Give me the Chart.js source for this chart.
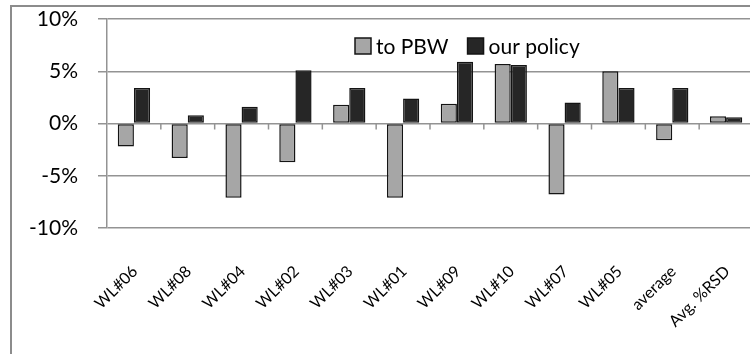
<!DOCTYPE html>
<html><head><meta charset="utf-8">
<script src="https://cdn.jsdelivr.net/npm/chart.js@4/dist/chart.umd.min.js"></script>
<style>
html,body{margin:0;padding:0;background:#fff;overflow:hidden;width:750px;height:354px;}
#wrap{position:relative;width:756px;height:354px;}
#frame{position:absolute;left:10px;top:5px;width:800px;height:400px;border-left:2px solid #8c8c8c;border-top:2px solid #8c8c8c;}
canvas{position:absolute;left:0;top:0;}
</style></head><body>
<div id="wrap"><div id="frame"></div><canvas id="c" width="756" height="354"></canvas></div>
<script>
const categories = ['WL#06','WL#08','WL#04','WL#02','WL#03','WL#01','WL#09','WL#10','WL#07','WL#05','average','Avg. %RSD'];
const toPBW = [-2.2,-3.3,-7.1,-3.7,1.8,-7.1,1.9,5.7,-6.8,5.0,-1.6,0.7];
const ourPolicy = [3.4,0.8,1.6,5.1,3.4,2.4,5.9,5.6,2.0,3.4,3.4,0.6];
const seriesNames = ['to PBW','our policy'];
const yTicks = [-10,-5,0,5,10];

const FONT = 'Lato';
const GRID = '#939393';

// legend drawn inside the plot area, from the datasets' own labels and colours
const insideLegend = {
  id:'insideLegend',
  afterDraw(chart){
    const ctx = chart.ctx;
    const box = 16, gapText = 5, gapItem = 19;
    let x = 355; const yMid = 46;
    ctx.save();
    ctx.font = '21px ' + FONT;
    ctx.textBaseline = 'middle'; ctx.textAlign = 'left';
    chart.data.datasets.forEach(ds => {
      ctx.fillStyle = ds.backgroundColor;
      ctx.fillRect(x, yMid - box/2, box, box);
      ctx.strokeStyle = ds.borderColor; ctx.lineWidth = 1.5;
      ctx.strokeRect(x, yMid - box/2, box, box);
      x += box + gapText;
      ctx.fillStyle = '#000';
      ctx.fillText(ds.label, x, yMid + 1);
      x += ctx.measureText(ds.label).width + gapItem;
    });
    ctx.restore();
  }
};
const zeroTicks = {
  id:'zeroTicks',
  beforeDatasetsDraw(chart){
    const x = chart.scales.x, y = chart.scales.y;
    const y0 = y.getPixelForValue(0);
    const ctx = chart.ctx;
    ctx.save(); ctx.strokeStyle = GRID; ctx.lineWidth = 1.5;
    for(let i=1;i<categories.length;i++){
      const px = (x.getPixelForTick(i-1)+x.getPixelForTick(i))/2;
      ctx.beginPath(); ctx.moveTo(px,y0); ctx.lineTo(px,y0+6); ctx.stroke();
    }
    ctx.restore();
  }
};

new Chart(document.getElementById('c'), {
  type:'bar',
  data:{
    labels: categories,
    datasets:[
      {label:seriesNames[0], data:toPBW, backgroundColor:'#a6a6a6', borderColor:'#141414', borderWidth:1.5, borderSkipped:false},
      {label:seriesNames[1], data:ourPolicy, backgroundColor:'#262626', borderColor:'#141414', borderWidth:1.5, borderSkipped:false}
    ]
  },
  options:{
    responsive:false, animation:false,
    layout:{padding:{top:19,left:0,right:3,bottom:0}},
    datasets:{bar:{categoryPercentage:0.6, barPercentage:1.0}},
    plugins:{ legend:{display:false}, tooltip:{enabled:false} },
    scales:{
      x:{
        grid:{display:false, drawTicks:false}, border:{display:false},
        ticks:{font:{family:FONT,size:16}, color:'#000', minRotation:45, maxRotation:45, autoSkip:false, labelOffset:1, padding:34},
        afterFit(s){ s.height = 354-228; s.paddingLeft = 0; s.paddingRight = 0; }
      },
      y:{
        min:-10, max:10,
        afterBuildTicks(s){ s.ticks = yTicks.map(v=>({value:v})); },
        ticks:{callback:v=>v+'%', font:{family:FONT,size:21}, color:'#000', padding:20},
        grid:{color:GRID, lineWidth:1.5, tickLength:9, drawTicks:true},
        border:{display:true, color:GRID, width:1.5},
        afterFit(s){ s.width = 107; s.paddingTop = 0; s.paddingBottom = 0; }
      }
    }
  },
  plugins:[insideLegend, zeroTicks]
});
</script>
</body></html>
